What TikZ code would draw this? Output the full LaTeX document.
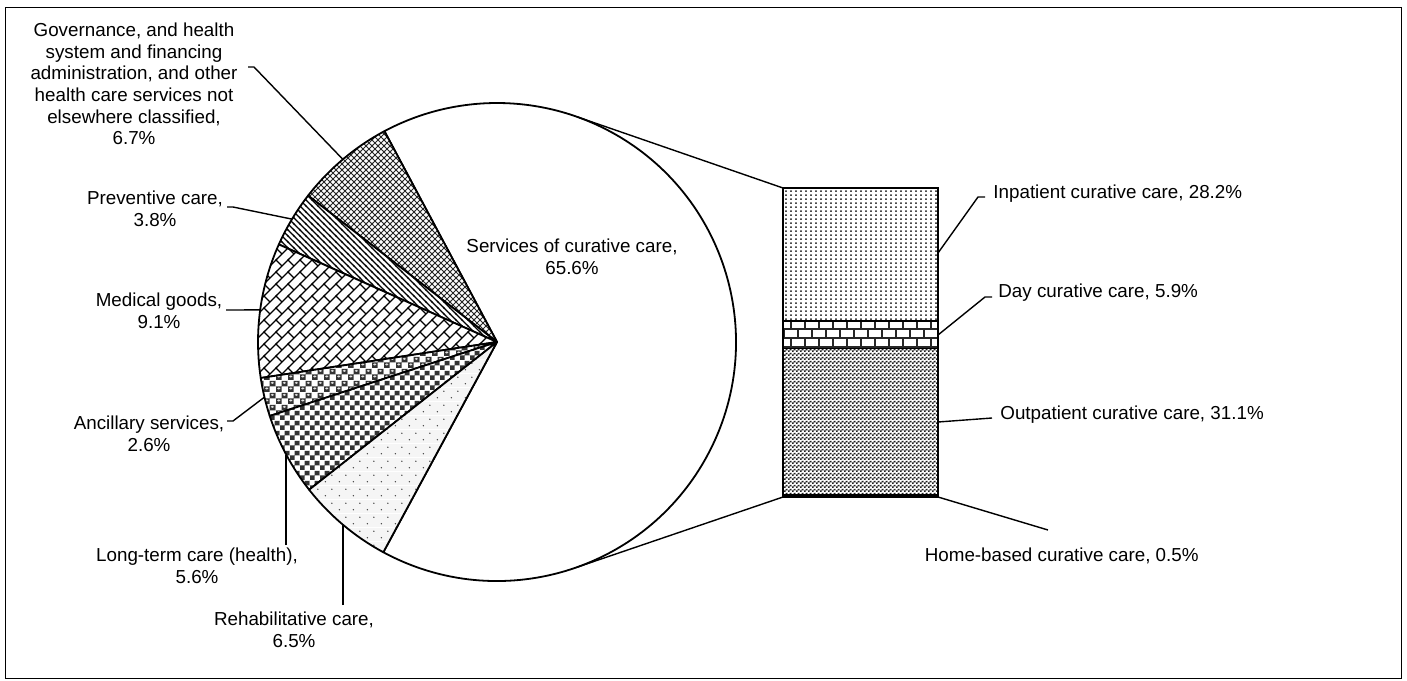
\documentclass[tikz,border=0pt]{standalone}
\usepackage{fontspec}
\setmainfont{Liberation Sans}
\usetikzlibrary{patterns,calc}

% ---------- patterns ----------
\pgfdeclarepatternformonly{govpat}{\pgfqpoint{-0.5pt}{-0.5pt}}{\pgfqpoint{3.5pt}{3.5pt}}{\pgfqpoint{3pt}{3pt}}{%
  \pgfsetlinewidth{0.5pt}%
  \pgfpathmoveto{\pgfqpoint{-0.5pt}{-0.5pt}}\pgfpathlineto{\pgfqpoint{3.5pt}{3.5pt}}%
  \pgfpathmoveto{\pgfqpoint{-0.5pt}{3.5pt}}\pgfpathlineto{\pgfqpoint{3.5pt}{-0.5pt}}%
  \pgfusepath{stroke}}
\pgfdeclarepatternformonly{prevpat}{\pgfqpoint{-0.5pt}{-0.5pt}}{\pgfqpoint{3.5pt}{3.5pt}}{\pgfqpoint{3pt}{3pt}}{%
  \pgfsetlinewidth{0.6pt}%
  \pgfpathmoveto{\pgfqpoint{-0.5pt}{3.5pt}}\pgfpathlineto{\pgfqpoint{3.5pt}{-0.5pt}}%
  \pgfusepath{stroke}}
\pgfdeclarepatternformonly{medpat}{\pgfqpoint{-0.5pt}{-0.5pt}}{\pgfqpoint{6.5pt}{6.5pt}}{\pgfqpoint{6pt}{6pt}}{%
  \pgfsetlinewidth{0.6pt}%
  \pgfpathmoveto{\pgfqpoint{-0.5pt}{-0.5pt}}\pgfpathlineto{\pgfqpoint{6.5pt}{6.5pt}}%
  \pgfpathmoveto{\pgfqpoint{3pt}{3pt}}\pgfpathlineto{\pgfqpoint{0pt}{6pt}}%
  \pgfusepath{stroke}}
\pgfdeclarepatternformonly{daypat}{\pgfqpoint{-0.5pt}{-0.5pt}}{\pgfqpoint{7.5pt}{9.5pt}}{\pgfqpoint{7pt}{9pt}}{%
  \pgfsetlinewidth{0.7pt}%
  \pgfpathmoveto{\pgfqpoint{-0.5pt}{0pt}}\pgfpathlineto{\pgfqpoint{7.5pt}{0pt}}%
  \pgfpathmoveto{\pgfqpoint{-0.5pt}{4.5pt}}\pgfpathlineto{\pgfqpoint{7.5pt}{4.5pt}}%
  \pgfpathmoveto{\pgfqpoint{0pt}{0pt}}\pgfpathlineto{\pgfqpoint{0pt}{4.5pt}}%
  \pgfpathmoveto{\pgfqpoint{3.5pt}{4.5pt}}\pgfpathlineto{\pgfqpoint{3.5pt}{9pt}}%
  \pgfusepath{stroke}}
\pgfdeclarepatterninherentlycolored{ancpat}{\pgfpointorigin}{\pgfqpoint{6pt}{6pt}}{\pgfqpoint{6pt}{6pt}}{%
  \pgfsetfillcolor{white}%
  \pgfpathrectangle{\pgfpointorigin}{\pgfqpoint{6pt}{6pt}}\pgfusepath{fill}%
  \pgfsetfillcolor{black!80}%
  \pgfpathrectangle{\pgfpointorigin}{\pgfqpoint{3pt}{3pt}}%
  \pgfpathrectangle{\pgfqpoint{3pt}{3pt}}{\pgfqpoint{3pt}{3pt}}\pgfusepath{fill}%
  \pgfsetfillcolor{black!12}%
  \pgfpathellipse{\pgfqpoint{1.5pt}{1.9pt}}{\pgfqpoint{0.9pt}{0pt}}{\pgfqpoint{0pt}{0.6pt}}%
  \pgfpathellipse{\pgfqpoint{4.5pt}{4.9pt}}{\pgfqpoint{0.9pt}{0pt}}{\pgfqpoint{0pt}{0.6pt}}%
  \pgfusepath{fill}}
\pgfdeclarepatterninherentlycolored{ltcpat}{\pgfpointorigin}{\pgfqpoint{5pt}{5pt}}{\pgfqpoint{5pt}{5pt}}{%
  \pgfsetfillcolor{white}%
  \pgfpathrectangle{\pgfpointorigin}{\pgfqpoint{5pt}{5pt}}\pgfusepath{fill}%
  \pgfsetfillcolor{black!80}%
  \pgfpathrectangle{\pgfpointorigin}{\pgfqpoint{2.5pt}{2.5pt}}%
  \pgfpathrectangle{\pgfqpoint{2.5pt}{2.5pt}}{\pgfqpoint{2.5pt}{2.5pt}}\pgfusepath{fill}}
\pgfdeclarepatterninherentlycolored{rehpat}{\pgfpointorigin}{\pgfqpoint{7pt}{7pt}}{\pgfqpoint{7pt}{7pt}}{%
  \pgfsetfillcolor{black!4}%
  \pgfpathrectangle{\pgfpointorigin}{\pgfqpoint{7pt}{7pt}}\pgfusepath{fill}%
  \pgfsetfillcolor{black!75}%
  \pgfpathcircle{\pgfqpoint{1.75pt}{1.75pt}}{0.4pt}%
  \pgfpathcircle{\pgfqpoint{5.25pt}{5.25pt}}{0.4pt}\pgfusepath{fill}}
\pgfdeclarepatterninherentlycolored{inppat}{\pgfpointorigin}{\pgfqpoint{2.5pt}{2pt}}{\pgfqpoint{2.5pt}{2pt}}{%
  \pgfsetfillcolor{white}%
  \pgfpathrectangle{\pgfpointorigin}{\pgfqpoint{2.5pt}{2pt}}\pgfusepath{fill}%
  \pgfsetfillcolor{black!70}%
  \pgfpathrectangle{\pgfpointorigin}{\pgfqpoint{1.15pt}{1pt}}\pgfusepath{fill}}
\pgfdeclarepatterninherentlycolored{outpat}{\pgfpointorigin}{\pgfqpoint{2pt}{2pt}}{\pgfqpoint{2pt}{2pt}}{%
  \pgfsetfillcolor{white}%
  \pgfpathrectangle{\pgfpointorigin}{\pgfqpoint{2pt}{2pt}}\pgfusepath{fill}%
  \pgfsetfillcolor{black!88}%
  \pgfpathrectangle{\pgfpointorigin}{\pgfqpoint{1pt}{1pt}}%
  \pgfpathrectangle{\pgfqpoint{1pt}{1pt}}{\pgfqpoint{1pt}{1pt}}\pgfusepath{fill}}

\newcommand\mySlice[3]{\draw[slice,#3] (C) -- ($(C)+(#1:\R)$) arc[start angle=#1, end angle=#2, radius=\R] -- cycle;}

\begin{document}
\begin{tikzpicture}[x=0.5pt,y=0.5pt,
  slice/.style={draw=black, line width=0.9pt, line join=round},
  barpart/.style={draw=black, line width=0.9pt},
  leader/.style={draw=black, line width=0.7pt},
  lbl/.style={inner sep=0pt, align=center, font=\fontsize{9.4}{10.85}\selectfont},
  lblw/.style={lbl, anchor=west},
]
\useasboundingbox (0,0) rectangle (1407,-680);
\draw[line width=0.5pt] (5,-7) rectangle (1401,-678);

\coordinate (C) at (497,-342);
\def\R{239}

% pie slices
\mySlice{-118.4}{118.1}{fill=white}
\mySlice{118.1}{142.22}{preaction={fill=white}, pattern=govpat, pattern color=black!85}
\mySlice{142.22}{155.9}{preaction={fill=white}, pattern=prevpat, pattern color=black}
\mySlice{155.9}{188.66}{preaction={fill=white}, pattern=medpat, pattern color=black}
\mySlice{188.66}{198.02}{pattern=ancpat}
\mySlice{198.02}{218.18}{pattern=ltcpat}
\mySlice{218.18}{241.6}{pattern=rehpat}

% bar
\coordinate (b0) at (783,-188);
\coordinate (b1) at (938,-320.6);
\coordinate (b1l) at (783,-320.6);
\coordinate (b2) at (938,-348.4);
\coordinate (b2l) at (783,-348.4);
\coordinate (b3) at (938,-494.7);
\coordinate (b3l) at (783,-494.7);
\coordinate (b4) at (938,-497);
\coordinate (b4l) at (783,-497);
\draw[barpart, pattern=inppat] (b0) rectangle (b1);
\draw[barpart, preaction={fill=white}, pattern=daypat, pattern color=black!85] (b1l) rectangle (b2);
\draw[barpart, pattern=outpat] (b2l) rectangle (b3);
\draw[barpart, fill=black] (b3l) rectangle (b4);

% connectors pie -> bar
\coordinate (pt) at ($(C)+(70.5:\R)$);
\coordinate (pb) at ($(C)+(-70.5:\R)$);
\draw[leader] (pt) -- (b0);
\draw[leader] (pb) -- (b4l);

% labels
\node[lbl] (gov) at (134,-84) {Governance, and health\\system and financing\\administration, and other\\health care services not\\elsewhere classified,\\6.7\%};
\node[lbl] (prev) at (155,-209) {Preventive care,\\3.8\%};
\node[lbl] (med) at (159,-311) {Medical goods,\\9.1\%};
\node[lbl] (anc) at (149,-434) {Ancillary services,\\2.6\%};
\node[lbl] (ltc) at (197,-566) {Long-term care (health),\\5.6\%};
\node[lbl] (reh) at (294,-630) {Rehabilitative care,\\6.5\%};
\node[lbl] (cur) at (572,-257) {Services of curative care,\\65.6\%};

\node[lblw] (inp) at (993,-194) {Inpatient curative care, 28.2\%};
\node[lblw] (day) at (998,-293) {Day curative care, 5.9\%};
\node[lblw] (out) at (1000,-415) {Outpatient curative care, 31.1\%};
\node[lbl, anchor=east] (home) at (1199,-556) {Home-based curative care, 0.5\%};

% leader end points
\coordinate (gm) at ($(C)+(130.16:\R)$);
\coordinate (pm) at ($(C)+(149.06:\R)$);
\coordinate (mm) at ($(C)+(172.28:\R)$);
\coordinate (am) at ($(C)+(193.34:\R)$);
\coordinate (lm) at ($(C)+(208.1:\R)$);
\coordinate (rm) at ($(C)+(229.89:\R)$);

\coordinate (g0) at (248,-67);
\coordinate (p0) at (227,-207);
\coordinate (m0) at (226,-310);
\coordinate (a0) at (227,-421);
\coordinate (l0) at (lm |- 0,-545);
\coordinate (r0) at (rm |- 0,-605);

\draw[leader] (g0) -- ++(6,0) -- (gm);
\draw[leader] (p0) -- ++(6,0) -- (pm);
\draw[leader] (m0) -- (mm);
\draw[leader] (a0) -- ++(6,0) -- (am);
\draw[leader] (l0) -- (lm);
\draw[leader] (r0) -- (rm);

\coordinate (i0) at (985,-197);
\coordinate (i1) at (938,-253);
\coordinate (d0) at (992,-297);
\coordinate (d1) at (938,-335);
\coordinate (o0) at (992,-418);
\coordinate (o1) at (938,-422);
\coordinate (h0) at (1048,-530);

\draw[leader] (i0) -- ++(-7,0) -- (i1);
\draw[leader] (d0) -- ++(-7,0) -- (d1);
\draw[leader] (o0) -- (o1);
\draw[leader] (h0) -- (b4);
\end{tikzpicture}
\end{document}
